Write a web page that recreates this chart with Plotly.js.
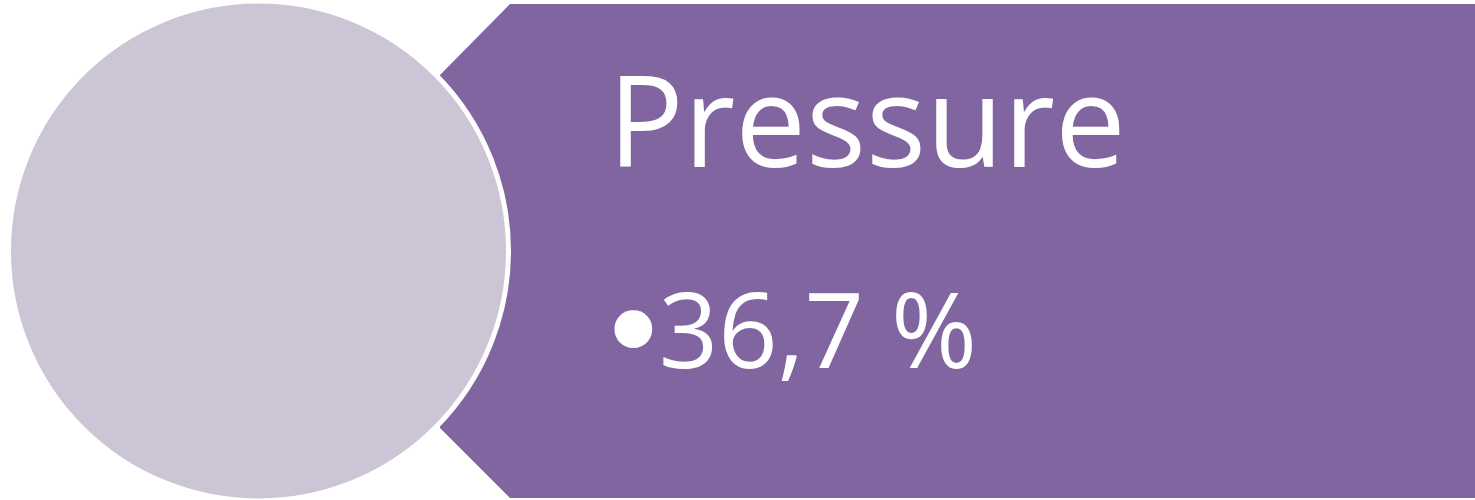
<!DOCTYPE html>
<html>
<head>
<meta charset="utf-8">
<script src="https://cdn.plot.ly/plotly-3.0.1.min.js"></script>
<style>html,body{margin:0;padding:0;background:#fff;}#chart{width:1475px;height:500px;}</style>
</head>
<body>
<div id="chart"></div>
<script>
// Data
var labels = ["Pressure"];
var values = [36.7];
var bulletChar = "•";

function fmt(v){ return String(v).replace('.', ',') + ' %'; }

// Purple banner polygon (outline in chart units)
var bannerX = [510, 1475, 1475, 510, 440, 440, 510];
var bannerY = [4, 4, 498, 498, 428, 75, 4];

var traces = [{
  type: 'scatter', mode: 'lines', x: bannerX, y: bannerY,
  fill: 'toself', fillcolor: '#8065A0', line: {width: 0, color: '#8065A0'},
  hoverinfo: 'skip', showlegend: false
}];

var bulletHtml = '<span style="font-family:DejaVu Sans;font-size:130px;letter-spacing:-13px;baseline-shift:-10px">' + bulletChar + '</span>';

var layout = {
  width: 1475, height: 500,
  margin: {l: 0, r: 0, t: 0, b: 0, pad: 0},
  paper_bgcolor: '#ffffff', plot_bgcolor: '#ffffff',
  xaxis: {range: [0, 1475], visible: false, fixedrange: true},
  yaxis: {range: [500, 0], visible: false, fixedrange: true},
  showlegend: false,
  shapes: [{
    type: 'circle', xref: 'x', yref: 'y',
    x0: 8.5, x1: 508.5, y0: 1, y1: 501,
    fillcolor: '#CBC5D6', line: {color: '#ffffff', width: 5}, layer: 'above'
  }],
  annotations: [
    {x: 606, y: 118, xref: 'x', yref: 'y', xanchor: 'left', yanchor: 'middle',
     text: labels[0], showarrow: false,
     font: {family: 'Open Sans, Noto Sans, sans-serif', size: 126, color: '#ffffff'}},
    {x: 593, y: 333, xref: 'x', yref: 'y', xanchor: 'left', yanchor: 'middle',
     text: bulletHtml + fmt(values[0]), showarrow: false,
     font: {family: 'Open Sans, Noto Sans, sans-serif', size: 104, color: '#ffffff'}}
  ]
};

Plotly.newPlot('chart', traces, layout, {staticPlot: true, displayModeBar: false});
</script>
</body>
</html>
